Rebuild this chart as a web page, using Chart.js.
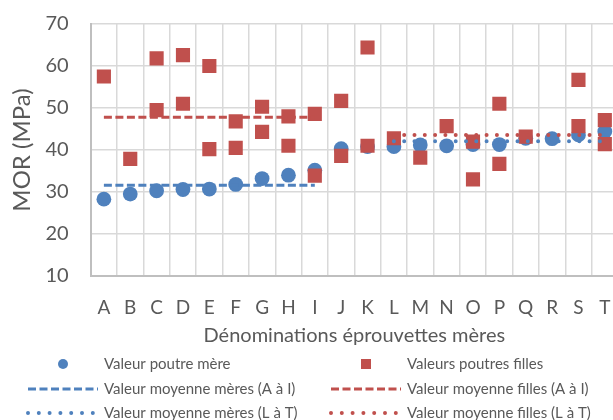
<!DOCTYPE html>
<html>
<head>
<meta charset="utf-8">
<script src="https://cdn.jsdelivr.net/npm/chart.js@4"></script>
<style>
  html, body { margin: 0; padding: 0; background: #fff; overflow: hidden; }
  canvas { display: block; }
</style>
</head>
<body>
<canvas id="canvas" width="618" height="420"></canvas>
<script>
const labels = ['A','B','C','D','E','F','G','H','I','J','K','L','M','N','O','P','Q','R','S','T'];
const mothers = [28.3, 29.5, 30.3, 30.6, 30.7, 31.8, 33.2, 34.0, 35.2, 40.3, 40.8, 40.8, 41.2, 41.0, 41.3, 41.3, 42.8, 42.7, 43.6, 44.4];
const daughters1 = [57.5, 37.9, 61.8, 62.6, 60.0, 46.8, 50.3, 48.0, 48.6, 51.7, 64.4, 42.8, 38.2, 45.7, 42.0, 51.0, 43.2, null, 56.7, 47.1];
const daughters2 = [null, null, 49.5, 51.0, 40.2, 40.5, 44.3, 41.0, 33.9, 38.6, 41.0, null, null, null, 33.0, 36.7, null, null, 45.7, 41.4];
const meanMothersAI = 31.6;
const meanDaughtersAI = 47.8;
const meanMothersLT = 42.1;
const meanDaughtersLT = 43.6;
const rangeAI = ['A', 'I'];
const rangeLT = ['L', 'T'];
const yTicks = [10, 20, 30, 40, 50, 60, 70];

const blue = '#4F81BD';
const red = '#C0504D';
const grey = '#595959';
const font = 'Lato';

function segment(value, range) {
  let a = labels.indexOf(range[0]);
  let b = labels.indexOf(range[1]);
  return labels.map((l, i) => (i >= a && i <= b) ? value : null);
}

let daughterPoints = [];
labels.forEach((l, i) => {
  if (daughters1[i] != null) daughterPoints.push({x: l, y: daughters1[i]});
  if (daughters2[i] != null) daughterPoints.push({x: l, y: daughters2[i]});
});

const dashed = [8, 3.5];
const dotted = [0, 10.3];

const data = {
  labels: labels,
  datasets: [
    {
      label: 'Valeur poutre mère',
      data: mothers,
      showLine: false,
      pointStyle: 'circle',
      pointRadius: 7.4,
      pointBackgroundColor: blue,
      pointBorderWidth: 0,
      order: 4
    },
    {
      label: 'Valeurs poutres filles',
      data: daughterPoints,
      showLine: false,
      pointStyle: 'rect',
      pointRadius: 10,
      pointBackgroundColor: red,
      pointBorderWidth: 0,
      order: 3
    },
    {
      label: 'Valeur moyenne mères (A à I)',
      data: segment(meanMothersAI, rangeAI),
      borderColor: blue, borderWidth: 3, borderDash: dashed,
      pointRadius: 0, spanGaps: false, order: 2
    },
    {
      label: 'Valeur moyenne filles (A à I)',
      data: segment(meanDaughtersAI, rangeAI),
      borderColor: red, borderWidth: 3, borderDash: dashed,
      pointRadius: 0, spanGaps: false, order: 2
    },
    {
      label: 'Valeur moyenne mères (L à T)',
      data: segment(meanMothersLT, rangeLT),
      borderColor: blue, borderWidth: 4, borderDash: dotted, borderCapStyle: 'round',
      pointRadius: 0, spanGaps: false, order: 1
    },
    {
      label: 'Valeur moyenne filles (L à T)',
      data: segment(meanDaughtersLT, rangeLT),
      borderColor: red, borderWidth: 4, borderDash: dotted, borderCapStyle: 'round',
      pointRadius: 0, spanGaps: false, order: 1
    }
  ]
};

// legend drawn in two columns like the original
const legendLayout = [
  {ds: 0, col: 0, row: 0, kind: 'circle'},
  {ds: 1, col: 1, row: 0, kind: 'rect'},
  {ds: 2, col: 0, row: 1, kind: 'dash'},
  {ds: 3, col: 1, row: 1, kind: 'dash'},
  {ds: 4, col: 0, row: 2, kind: 'dot'},
  {ds: 5, col: 1, row: 2, kind: 'dot'}
];
const twoColLegend = {
  id: 'twoColLegend',
  afterDraw(chart) {
    const c = chart.ctx;
    const colX = [28, 331];
    const rowY = [364, 389, 413];
    c.save();
    legendLayout.forEach(item => {
      const ds = chart.data.datasets[item.ds];
      const x0 = colX[item.col];
      const y = rowY[item.row];
      const color = item.ds % 2 === 0 ? blue : red;
      if (item.kind === 'circle') {
        c.fillStyle = color;
        c.beginPath(); c.arc(x0 + 35, y, 5, 0, Math.PI * 2); c.fill();
      } else if (item.kind === 'rect') {
        c.fillStyle = color;
        c.fillRect(x0 + 30, y - 5, 10, 10);
      } else {
        c.strokeStyle = color;
        if (item.kind === 'dash') {
          c.lineWidth = 3; c.lineCap = 'butt'; c.setLineDash([8, 3.5]);
        } else {
          c.lineWidth = 4; c.lineCap = 'round'; c.setLineDash([0, 10.8]);
        }
        c.beginPath(); c.moveTo(x0, y); c.lineTo(x0 + 70, y); c.stroke();
        c.setLineDash([]);
      }
      c.fillStyle = grey;
      c.font = '15px ' + font;
      c.textBaseline = 'middle';
      c.textAlign = 'left';
      c.fillText(ds.label, x0 + 76, y);
    });
    c.restore();
  }
};

const config = {
  type: 'line',
  data: data,
  options: {
    responsive: false,
    animation: false,
    layout: { autoPadding: false, padding: { top: 24, left: 7.7, right: 0, bottom: 72 } },
    plugins: {
      legend: { display: false },
      tooltip: { enabled: false }
    },
    scales: {
      x: {
        type: 'category',
        offset: true,
        grid: { offset: true, color: '#d9d9d9', lineWidth: 1.5, drawTicks: false },
        border: { color: '#bfbfbf', width: 2 },
        ticks: { color: grey, font: { family: font, size: 19 }, padding: 20, autoSkip: false, maxRotation: 0 },
        title: { display: true, text: 'Dénominations éprouvettes mères', color: grey, font: { family: font, size: 20 }, padding: 0 },
        afterFit: axis => { axis.height = 72; axis.paddingLeft = 0; axis.paddingRight = 0; }
      },
      y: {
        min: yTicks[0],
        max: yTicks[yTicks.length - 1],
        afterBuildTicks: axis => { axis.ticks = yTicks.map(v => ({value: v})); },
        afterFit: axis => { axis.paddingTop = 0; axis.paddingBottom = 0; },
        grid: { color: '#d9d9d9', lineWidth: 1.5, drawTicks: false },
        border: { color: '#bfbfbf', width: 2 },
        ticks: { color: grey, font: { family: font, size: 20 }, padding: 22 },
        title: { display: true, text: 'MOR (MPa)', color: grey, font: { family: font, size: 24 }, padding: { top: 0, bottom: -13 } }
      }
    }
  },
  plugins: [twoColLegend]
};

const ctx = document.getElementById('canvas');
let chart = new Chart(ctx, config);
</script>
</body>
</html>
